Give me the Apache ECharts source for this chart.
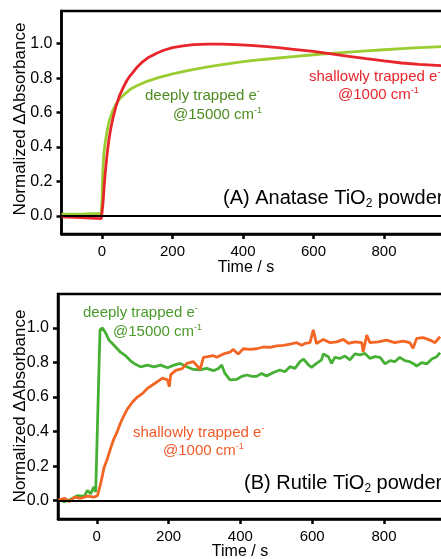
<!DOCTYPE html>
<html>
<head>
<meta charset="utf-8">
<script src="https://cdn.jsdelivr.net/npm/echarts@6/dist/echarts.min.js"></script>
<style>
  html, body { margin: 0; padding: 0; background: #fff; }
  #chart { width: 441px; height: 559px; }
</style>
</head>
<body>
<div id="chart"></div>
<script>
// Two stacked panels: normalized ΔAbsorbance vs time for anatase (A) and rutile (B) TiO2.

const xTicks = [0, 200, 400, 600, 800]
const yTicks = [0, 0.2, 0.4, 0.6, 0.8, 1.0]

// (A) anatase – deeply trapped e- @15000 cm-1
const anaDeepT = [-115, -50, -2, 0, 2, 5, 10, 15, 20, 30, 40, 50, 60, 80, 100, 130, 160, 200, 250, 300, 350, 400, 450, 500, 550, 600, 650, 700, 750, 800, 850, 900, 950, 1000]
const anaDeepV = [0.010, 0.012, 0.014, 0.10, 0.25, 0.36, 0.44, 0.50, 0.55, 0.61, 0.65, 0.68, 0.70, 0.735, 0.757, 0.783, 0.803, 0.825, 0.847, 0.865, 0.882, 0.896, 0.907, 0.917, 0.927, 0.936, 0.944, 0.951, 0.958, 0.965, 0.971, 0.977, 0.982, 0.986]

// (A) anatase – shallowly trapped e- @1000 cm-1
const anaShallowT = [-115, -60, -2, 0, 3, 6, 10, 15, 20, 25, 30, 40, 50, 60, 70, 80, 90, 100, 115, 130, 155, 175, 200, 230, 260, 300, 340, 380, 420, 460, 500, 550, 600, 650, 700, 750, 800, 850, 900, 950, 1000]
const anaShallowV = [-0.005, -0.010, -0.016, -0.01, 0.08, 0.17, 0.27, 0.37, 0.45, 0.51, 0.56, 0.64, 0.70, 0.745, 0.785, 0.815, 0.84, 0.865, 0.895, 0.918, 0.945, 0.962, 0.977, 0.988, 0.995, 0.998, 0.998, 0.995, 0.990, 0.984, 0.977, 0.966, 0.955, 0.941, 0.927, 0.913, 0.900, 0.888, 0.880, 0.874, 0.868]

// (B) rutile – deeply trapped e- @15000 cm-1
const rutDeepT = [-107, -90, -72, -53, -35, -26, -17, -8, -3, 0, 9, 16, 25, 34, 48, 57, 66, 80, 94, 108, 122, 141, 159, 178, 197, 215, 232, 251, 269, 288, 306, 325, 339, 348, 357, 371, 390, 404, 418, 432, 445, 459, 473, 492, 510, 524, 538, 552, 566, 576, 590, 598, 612, 626, 631, 645, 654, 663, 677, 691, 705, 719, 733, 747, 761, 775, 789, 803, 817, 830, 844, 858, 872, 881, 891, 905, 919, 933, 947, 956]
const rutDeepV = [0.004, -0.005, 0.008, 0.03, 0.025, 0.06, 0.04, 0.08, 0.05, 0.06, 0.99, 1.0, 0.97, 0.93, 0.90, 0.88, 0.86, 0.84, 0.81, 0.79, 0.775, 0.785, 0.775, 0.785, 0.77, 0.785, 0.795, 0.776, 0.76, 0.757, 0.766, 0.753, 0.766, 0.786, 0.737, 0.70, 0.703, 0.72, 0.728, 0.72, 0.72, 0.737, 0.722, 0.742, 0.757, 0.747, 0.776, 0.766, 0.805, 0.82, 0.786, 0.772, 0.795, 0.815, 0.85, 0.834, 0.795, 0.83, 0.824, 0.838, 0.815, 0.85, 0.844, 0.853, 0.824, 0.834, 0.83, 0.792, 0.811, 0.805, 0.83, 0.811, 0.805, 0.795, 0.78, 0.80, 0.792, 0.82, 0.834, 0.857]

// (B) rutile – shallowly trapped e- @1000 cm-1
const rutShallowT = [-107, -90, -76, -62, -44, -26, -8, 2, 11, 20, 29, 38, 48, 57, 66, 75, 85, 99, 113, 127, 141, 155, 169, 183, 197, 202, 206, 220, 238, 251, 269, 288, 297, 325, 334, 353, 371, 380, 394, 408, 427, 445, 464, 483, 501, 520, 538, 557, 571, 580, 594, 603, 612, 631, 650, 669, 687, 701, 719, 738, 742, 752, 761, 784, 807, 830, 853, 872, 881, 891, 909, 928, 942, 956]
const rutShallowV = [0.004, 0.014, -0.005, 0.02, 0.014, 0.026, 0.02, 0.03, 0.10, 0.19, 0.24, 0.30, 0.36, 0.40, 0.45, 0.49, 0.53, 0.57, 0.60, 0.62, 0.65, 0.67, 0.69, 0.71, 0.70, 0.66, 0.73, 0.755, 0.765, 0.795, 0.805, 0.76, 0.83, 0.84, 0.83, 0.85, 0.86, 0.876, 0.85, 0.88, 0.876, 0.88, 0.89, 0.888, 0.896, 0.90, 0.907, 0.915, 0.90, 0.911, 0.915, 0.99, 0.91, 0.934, 0.915, 0.92, 0.934, 0.911, 0.92, 0.915, 0.862, 0.959, 0.915, 0.92, 0.93, 0.915, 0.924, 0.915, 0.883, 0.94, 0.945, 0.93, 0.915, 0.95]

const FONT = '"Liberation Sans", Arial, sans-serif'
const zip = (ts, vs) => ts.map((t, i) => [t, vs[i]])

const chart = echarts.init(document.getElementById('chart'), null, { renderer: 'canvas' })

// axis line sits on the grid border; onZero off so ticks stay on the frame
const axisLine = { show: true, onZero: false, lineStyle: { color: '#000', width: 2.5 } }
const tickStyle = { color: '#000', width: 2.5 }

function xAxisFor(gridIndex, min) {
  return {
    gridIndex, type: 'value', min, max: 1000,
    axisLine,
    axisTick: { show: true, length: 5, customValues: xTicks, lineStyle: tickStyle },
    axisLabel: { customValues: xTicks, color: '#000', fontSize: 15, fontFamily: FONT, margin: 10 },
    splitLine: { show: false },
  }
}
function yAxisFor(gridIndex, min, max) {
  return {
    gridIndex, type: 'value', min, max,
    axisLine,
    axisTick: { show: true, length: 5, customValues: yTicks, lineStyle: tickStyle },
    axisLabel: { customValues: yTicks, color: '#000', fontSize: 16, fontFamily: FONT, margin: 9, formatter: (v) => v.toFixed(1) },
    splitLine: { show: false },
  }
}
function line(name, data, color, xi) {
  return {
    name, type: 'line', data, xAxisIndex: xi, yAxisIndex: xi,
    showSymbol: false, symbol: 'none', animation: false,
    lineStyle: { color, width: 2.8 },
  }
}
const zeroLine = {
  silent: true, symbol: ['none', 'none'], label: { show: false },
  lineStyle: { color: '#000', width: 2, type: 'solid' },
  data: [{ yAxis: 0 }],
}

// graphic text is plain zrender, so rich tokens take `fill`, not `color`
const supRich = (fill) => ({
  t: { fontSize: 15, fontFamily: FONT, fill, lineHeight: 18 },
  s: { fontSize: 9, fontFamily: FONT, fill, verticalAlign: 'top', lineHeight: 18, padding: [0, 0, 8, 0] },
})
const subRich = {
  t: { fontSize: 20, fontFamily: FONT, fill: '#000', lineHeight: 24 },
  b: { fontSize: 12, fontFamily: FONT, fill: '#000', lineHeight: 24, padding: [11, 0, 0, 0] },
}
function txt(x, y, text, rich, fill) {
  return { type: 'text', x, y, z: 100, style: { text, rich, fill: fill || '#000', align: 'left', verticalAlign: 'middle' } }
}
function vtxt(x, y, text) {
  return {
    type: 'text', x, y, rotation: Math.PI / 2, z: 100,
    style: { text, fontSize: 17, fontFamily: FONT, fill: '#000', align: 'center', verticalAlign: 'middle' },
  }
}
function htxt(x, y, text) {
  return {
    type: 'text', x, y, z: 100,
    style: { text, fontSize: 16, fontFamily: FONT, fill: '#000', align: 'center', verticalAlign: 'middle' },
  }
}

const GREEN_A = '#4d8c1f'
const RED_A = '#e8252a'
const GREEN_B = '#4a9a2a'
const ORANGE_B = '#f05a28'

const option = {
  backgroundColor: '#fff',
  animation: false,
  grid: [
    { left: 61.5, top: 11, width: 393, height: 223, outerBoundsMode: 'none', containLabel: false, show: true, borderColor: '#000', borderWidth: 2.5, backgroundColor: 'transparent' },
    { left: 58, top: 294, width: 397.8, height: 225, outerBoundsMode: 'none', containLabel: false, show: true, borderColor: '#000', borderWidth: 2.5, backgroundColor: 'transparent' },
  ],
  xAxis: [xAxisFor(0, -115), xAxisFor(1, -108)],
  yAxis: [yAxisFor(0, -0.105, 1.19), yAxisFor(1, -0.106, 1.197)],
  series: [
    Object.assign(line('deep A', zip(anaDeepT, anaDeepV), '#9acd32', 0), { markLine: zeroLine }),
    line('shallow A', zip(anaShallowT, anaShallowV), RED_A, 0),
    Object.assign(line('deep B', zip(rutDeepT, rutDeepV), '#46b035', 1), { markLine: zeroLine }),
    line('shallow B', zip(rutShallowT, rutShallowV), '#f26522', 1),
  ],
  graphic: [
    // panel A annotations
    txt(145, 96, '{t|deeply trapped e}{s|-}', supRich(GREEN_A), GREEN_A),
    txt(173, 115, '{t|@15000 cm}{s|-1}', supRich(GREEN_A), GREEN_A),
    txt(309, 77, '{t|shallowly trapped e}{s|-}', supRich(RED_A), RED_A),
    txt(338, 95, '{t|@1000 cm}{s|-1}', supRich(RED_A), RED_A),
    txt(223, 198, '{t|(A) Anatase TiO}{b|2}{t| powder}', subRich),
    // panel B annotations
    txt(83, 313, '{t|deeply trapped e}{s|-}', supRich(GREEN_B), GREEN_B),
    txt(113, 332, '{t|@15000 cm}{s|-1}', supRich(GREEN_B), GREEN_B),
    txt(133, 433, '{t|shallowly trapped e}{s|-}', supRich(ORANGE_B), ORANGE_B),
    txt(163, 451, '{t|@1000 cm}{s|-1}', supRich(ORANGE_B), ORANGE_B),
    txt(244, 483, '{t|(B) Rutile TiO}{b|2}{t| powder}', subRich),
    // axis titles
    htxt(246, 268, 'Time / s'),
    htxt(240, 552, 'Time / s'),
    vtxt(20, 119, 'Normalized ΔAbsorbance'),
    vtxt(20, 406, 'Normalized ΔAbsorbance'),
  ],
}

chart.setOption(option)
</script>
</body>
</html>
